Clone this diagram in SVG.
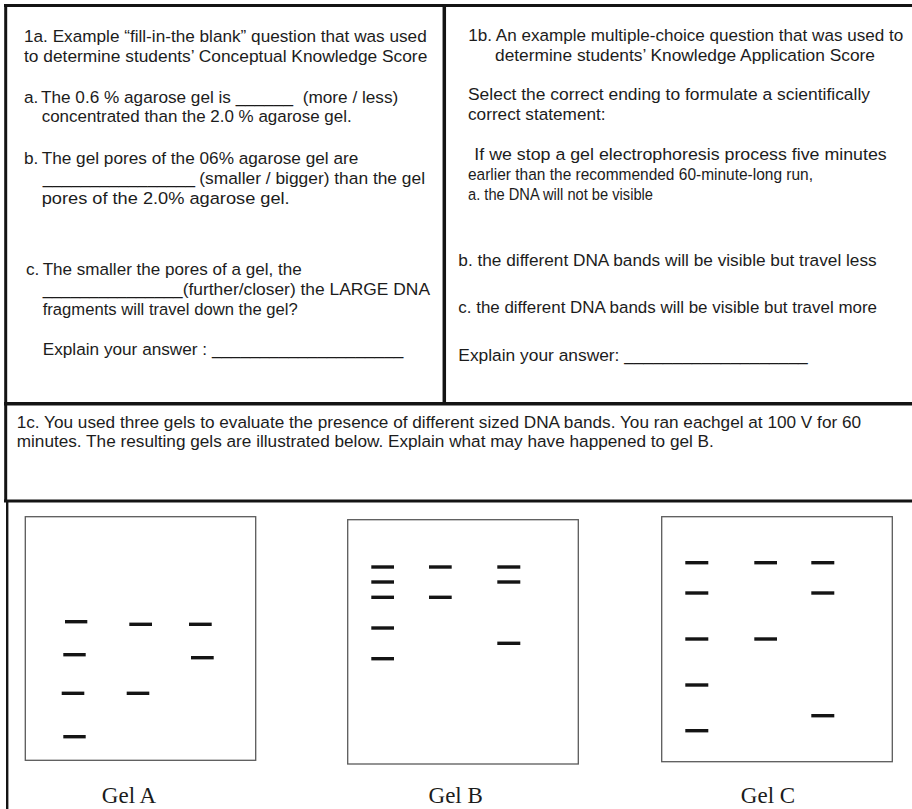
<svg xmlns="http://www.w3.org/2000/svg" width="912" height="809" viewBox="0 0 912 809">
<style>
.t{font-family:"Liberation Sans",Arial,sans-serif;font-size:17.2px;fill:#1c1c1c}
.g{font-family:"Liberation Serif","Times New Roman",serif;font-size:23px;fill:#1c1c1c;text-anchor:middle}
.frame{stroke:#141414;fill:none}
.box{fill:#fff;stroke:#5a5a5a;stroke-width:1.3}
.band{fill:#141414}
</style>
<rect width="912" height="809" fill="#fff"/>
<g id="frame">
<line class="frame" x1="4" y1="5.5" x2="912" y2="5.5" stroke-width="3"/>
<line class="frame" x1="5.7" y1="4" x2="5.7" y2="501" stroke-width="3"/>
<line class="frame" x1="444.3" y1="5.5" x2="444.3" y2="404" stroke-width="3.5"/>
<line class="frame" x1="4" y1="403.8" x2="912" y2="403.8" stroke-width="3.5"/>
<line class="frame" x1="4" y1="501" x2="912" y2="501" stroke-width="3"/>
<line class="frame" x1="7.2" y1="500" x2="7.2" y2="809" stroke-width="2.4"/>
</g>
<g id="connectors"/>
<g id="cell-1a">
<text class="t" x="24" y="41.5" textLength="402.7" lengthAdjust="spacingAndGlyphs">1a. Example “fill-in-the blank” question that was used</text>
<text class="t" x="24" y="61.5" textLength="403.3" lengthAdjust="spacingAndGlyphs">to determine students’ Conceptual Knowledge Score</text>
<text class="t" x="24" y="102.5">a.</text>
<text class="t" x="41" y="102.5" textLength="252" lengthAdjust="spacingAndGlyphs">The 0.6 % agarose gel is ______</text>
<text class="t" x="302.7" y="102.5" textLength="95.6" lengthAdjust="spacingAndGlyphs">(more / less)</text>
<text class="t" x="41.7" y="122" textLength="310" lengthAdjust="spacingAndGlyphs">concentrated than the 2.0 % agarose gel.</text>
<text class="t" x="24" y="164">b.</text>
<text class="t" x="41.7" y="164" textLength="316.6" lengthAdjust="spacingAndGlyphs">The gel pores of the 06% agarose gel are</text>
<text class="t" x="42.7" y="184.3" textLength="152.3" lengthAdjust="spacingAndGlyphs">________________</text>
<text class="t" x="199.3" y="184.3" textLength="225.7" lengthAdjust="spacingAndGlyphs">(smaller / bigger) than the gel</text>
<text class="t" x="41.7" y="204.3" textLength="248" lengthAdjust="spacingAndGlyphs">pores of the 2.0% agarose gel.</text>
<text class="t" x="26" y="275">c.</text>
<text class="t" x="42.7" y="275" textLength="259" lengthAdjust="spacingAndGlyphs">The smaller the pores of a gel, the</text>
<text class="t" x="42.7" y="294.5" textLength="140" lengthAdjust="spacingAndGlyphs">_______________</text>
<text class="t" x="182.7" y="294.5" textLength="247.3" lengthAdjust="spacingAndGlyphs">(further/closer) the LARGE DNA</text>
<text class="t" x="42.7" y="314.5" textLength="255" lengthAdjust="spacingAndGlyphs">fragments will travel down the gel?</text>
<text class="t" x="42.7" y="355" textLength="360.6" lengthAdjust="spacingAndGlyphs">Explain your answer : ____________________</text>
</g>
<g id="cell-1b">
<text class="t" x="468.3" y="41" textLength="435" lengthAdjust="spacingAndGlyphs">1b. An example multiple-choice question that was used to</text>
<text class="t" x="495" y="61" textLength="380" lengthAdjust="spacingAndGlyphs">determine students’ Knowledge Application Score</text>
<text class="t" x="468" y="100" textLength="402" lengthAdjust="spacingAndGlyphs">Select the correct ending to formulate a scientifically</text>
<text class="t" x="468" y="119.5">correct statement:</text>
<text class="t" x="474.3" y="160" textLength="412.4" lengthAdjust="spacingAndGlyphs">If we stop a gel electrophoresis process five minutes</text>
<text class="t" x="468" y="180" textLength="345" lengthAdjust="spacingAndGlyphs">earlier than the recommended 60-minute-long run,</text>
<text class="t" x="468" y="199.5" textLength="185" lengthAdjust="spacingAndGlyphs">a. the DNA will not be visible</text>
<text class="t" x="458.3" y="266" textLength="418.4" lengthAdjust="spacingAndGlyphs">b. the different DNA bands will be visible but travel less</text>
<text class="t" x="458.3" y="313" textLength="418.7" lengthAdjust="spacingAndGlyphs">c. the different DNA bands will be visible but travel more</text>
<text class="t" x="458.3" y="361" textLength="349.4" lengthAdjust="spacingAndGlyphs">Explain your answer: ___________________</text>
</g>
<g id="cell-1c">
<text class="t" x="16.7" y="428">1c. You used three gels to evaluate the presence of different sized DNA bands. You ran eachgel at 100 V for 60</text>
<text class="t" x="16.7" y="446.5">minutes. The resulting gels are illustrated below. Explain what may have happened to gel B.</text>
</g>
<g id="gel-a">
<rect class="box" x="25.3" y="516.7" width="230.4" height="243.6"/>
<rect class="band" x="65" y="620" width="22.3" height="3.4"/>
<rect class="band" x="63.3" y="653" width="22.4" height="3.4"/>
<rect class="band" x="61.7" y="691.6" width="22.6" height="3.4"/>
<rect class="band" x="63.3" y="735" width="22.4" height="3.4"/>
<rect class="band" x="129.3" y="622.6" width="22.7" height="3.4"/>
<rect class="band" x="126.7" y="691.6" width="22.6" height="3.4"/>
<rect class="band" x="189" y="622.6" width="22.7" height="3.4"/>
<rect class="band" x="191" y="656" width="22.7" height="3.4"/>
<text class="g" x="129" y="803">Gel A</text>
</g>
<g id="gel-b">
<rect class="box" x="347.7" y="519.7" width="230.6" height="244.3"/>
<rect class="band" x="371.3" y="565.3" width="22.7" height="3.4"/>
<rect class="band" x="371.3" y="580.3" width="22.7" height="3.4"/>
<rect class="band" x="371.3" y="595.6" width="22.7" height="3.4"/>
<rect class="band" x="371.3" y="626.3" width="22.7" height="3.4"/>
<rect class="band" x="371.3" y="657" width="22.7" height="3.4"/>
<rect class="band" x="429" y="565.3" width="22.7" height="3.4"/>
<rect class="band" x="429" y="595.6" width="22.7" height="3.4"/>
<rect class="band" x="497.3" y="565.3" width="23" height="3.4"/>
<rect class="band" x="497.3" y="580.3" width="23" height="3.4"/>
<rect class="band" x="497.3" y="641.6" width="23" height="3.4"/>
<text class="g" x="455.7" y="803">Gel B</text>
</g>
<g id="gel-c">
<rect class="box" x="661.7" y="516.7" width="230.6" height="245"/>
<rect class="band" x="685.3" y="561" width="23" height="3.4"/>
<rect class="band" x="685.3" y="591.3" width="23" height="3.4"/>
<rect class="band" x="685.3" y="637.3" width="23" height="3.4"/>
<rect class="band" x="685.3" y="683.3" width="23" height="3.4"/>
<rect class="band" x="685.3" y="729" width="23" height="3.4"/>
<rect class="band" x="754.3" y="561" width="22.7" height="3.4"/>
<rect class="band" x="754.3" y="637.3" width="22.7" height="3.4"/>
<rect class="band" x="811.3" y="561" width="23" height="3.4"/>
<rect class="band" x="811.3" y="591.3" width="23" height="3.4"/>
<rect class="band" x="811.3" y="714" width="23" height="3.4"/>
<text class="g" x="768" y="803">Gel C</text>
</g>
</svg>
